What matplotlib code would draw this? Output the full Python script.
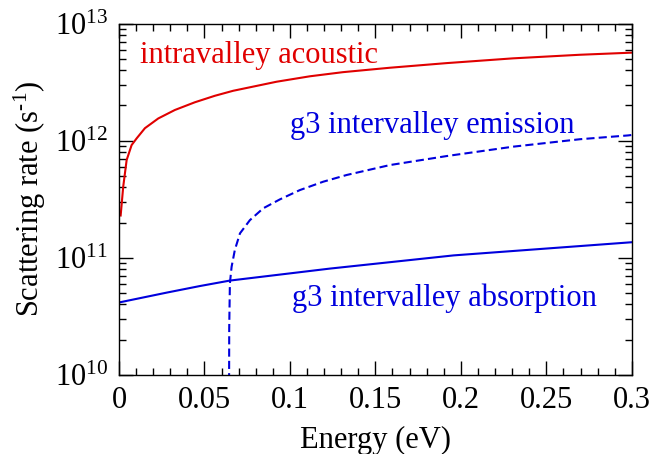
import matplotlib
matplotlib.use("Agg")
import matplotlib.pyplot as plt
from matplotlib.ticker import MultipleLocator, LogLocator, LogFormatterMathtext, NullFormatter

plt.rcParams['font.family'] = ['Liberation Serif', 'DejaVu Serif']
plt.rcParams['mathtext.fontset'] = 'custom'
plt.rcParams['mathtext.rm'] = 'Liberation Serif'
plt.rcParams['mathtext.it'] = 'Liberation Serif:italic'
plt.rcParams['mathtext.default'] = 'rm'

# intravalley acoustic
e_acou = [0.001, 0.0025, 0.0045, 0.0074, 0.0104, 0.0152, 0.023, 0.0327, 0.0444,
          0.0561, 0.0668, 0.0922, 0.1117, 0.131, 0.1585, 0.1917, 0.2304, 0.2696, 0.3]
r_acou = [2.3e11, 4.06e11, 6.84e11, 9.18e11, 1.05e12, 1.28e12, 1.55e12, 1.83e12, 2.13e12,
          2.42e12, 2.67e12, 3.19e12, 3.55e12, 3.85e12, 4.2e12, 4.6e12, 5.05e12, 5.42e12, 5.65e12]

# g3 intervalley emission (onset near 0.064 eV)
e_emi = [0.0643, 0.0645, 0.0649, 0.0659, 0.0678, 0.0708, 0.0766, 0.0844, 0.0942,
         0.1058, 0.1195, 0.1332, 0.1585, 0.1917, 0.2306, 0.2696, 0.2978, 0.3]
r_emi = [1e9, 2.5e10, 6.07e10, 8.4e10, 1.17e11, 1.62e11, 2.1e11, 2.65e11, 3.16e11,
         3.79e11, 4.47e11, 5.1e11, 6.2e11, 7.4e11, 8.9e11, 1.03e12, 1.11e12, 1.12e12]

# g3 intervalley absorption
e_abs = [0.0, 0.0279, 0.0474, 0.0649, 0.1234, 0.1958, 0.3]
r_abs = [4.16e10, 5.05e10, 5.75e10, 6.4e10, 8.1e10, 1.05e11, 1.36e11]

fig = plt.figure(figsize=(6.5, 4.54), dpi=100)
ax = fig.add_axes([0.183, 0.174, 0.789, 0.774])

red = '#e00000'
blue = '#0000dd'
ax.plot(e_acou, r_acou, color=red, lw=1.5)
ax.plot(e_emi, r_emi, color=blue, lw=1.5, dashes=(3.9, 2.0))
ax.plot(e_abs, r_abs, color=blue, lw=1.5)

ax.set_yscale('log')
ax.set_xlim(0, 0.3)
ax.set_ylim(1e10, 1e13)

ax.xaxis.set_minor_locator(MultipleLocator(0.01))
ax.set_xticks([0, 0.05, 0.1, 0.15, 0.2, 0.25, 0.3])
ax.set_xticklabels(['0', '0.05', '0.1', '0.15', '0.2', '0.25', '0.3'])
ax.yaxis.set_major_locator(LogLocator(base=10, numticks=10))
ax.yaxis.set_minor_locator(LogLocator(base=10, subs=range(2, 10), numticks=10))
ax.yaxis.set_major_formatter(LogFormatterMathtext())
ax.yaxis.set_minor_formatter(NullFormatter())

ax.tick_params(which='both', direction='in', top=True, right=True, labelsize=22, width=1)
ax.tick_params(which='major', length=10, pad=8)
ax.tick_params(which='minor', length=5)
for s in ax.spines.values():
    s.set_linewidth(1)

ax.set_xlabel('Energy (eV)', fontsize=22, labelpad=8)
ax.set_ylabel(r'Scattering rate (s$^{\text{-1}}$)', fontsize=22, labelpad=5)

ax.text(0.0123, 4.6e12, 'intravalley acoustic', color=red, fontsize=22, va='baseline')
ax.text(0.1, 1.16e12, 'g3 intervalley emission', color=blue, fontsize=22, va='baseline')
ax.text(0.101, 3.9e10, 'g3 intervalley absorption', color=blue, fontsize=22, va='baseline')

fig.savefig('out.png', dpi=100)
